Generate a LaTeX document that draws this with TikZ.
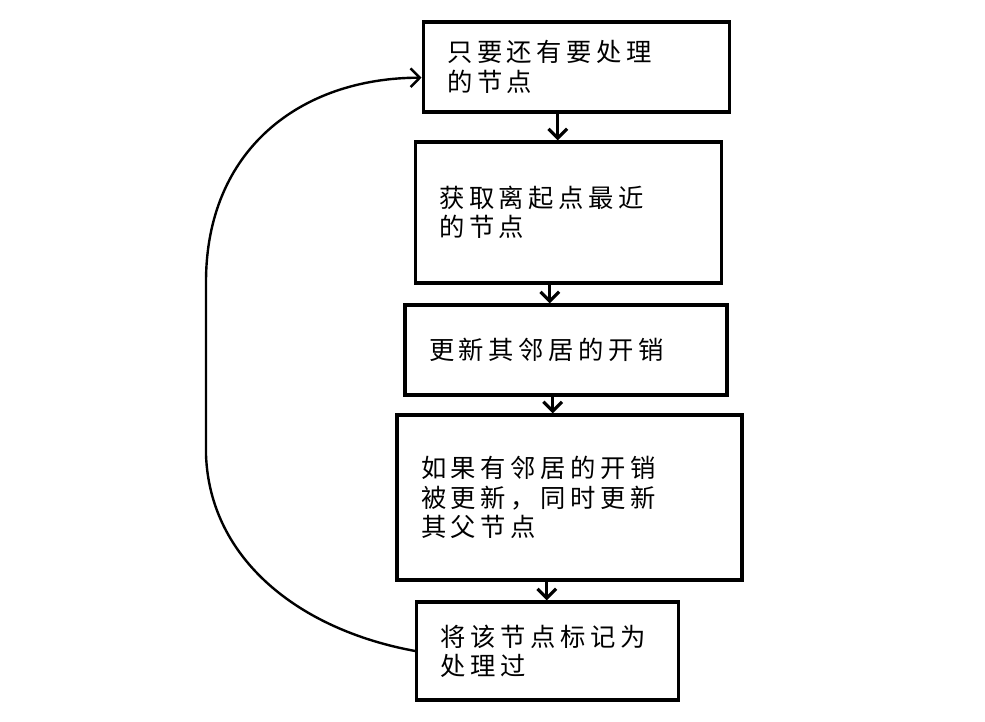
\documentclass[tikz,border=0pt]{standalone}
\usepackage{fontspec}
\newfontfamily\cjk[LetterSpace=18]{Noto Sans CJK SC}
\usetikzlibrary{arrows.meta}
\tikzset{
  stepbox/.style={draw, line width=2.4pt, align=left, inner xsep=18pt,
    font=\cjk\fontsize{19}{22}\selectfont},
  arr/.style={line width=2.4pt, -{Straight Barb[length=7pt,width=14pt]}}
}
\begin{document}
\begin{tikzpicture}[x=0.75pt, y=-0.75pt]
    \useasboundingbox (0,0) rectangle (985,721);
    % Boxes, top to bottom
    \node[stepbox, text width=194pt, minimum height=67.5pt] (B1) at (576.5,67)
      {只要还有要处理\\的节点};
    \node[stepbox, text width=194pt, minimum height=105.75pt] (B2) at (568.5,212.5)
      {获取离起点最近\\的节点};
    \node[stepbox, text width=205.5pt, minimum height=67.5pt] (B3) at (566,350)
      {更新其邻居的开销};
    \node[stepbox, text width=222.75pt, minimum height=123.75pt] (B4) at (569.5,497.5)
      {如果有邻居的开销\\被更新，同时更新\\其父节点};
    \node[stepbox, text width=160pt, minimum height=73.5pt] (B5) at (547.5,651)
      {将该节点标记为\\处理过};
    % Downward arrows
    \draw[arr] ([xshift=-14pt]B1.south) -- ([xshift=-14pt]B1.south |- B2.north);
    \draw[arr] ([xshift=-14pt]B2.south) -- ([xshift=-14pt]B2.south |- B3.north);
    \draw[arr] ([xshift=-10pt]B3.south) -- ([xshift=-10pt]B3.south |- B4.north);
    \draw[arr] ([xshift=-17pt]B4.south) -- ([xshift=-17pt]B4.south |- B5.north);
    % Loop back to the first box
    \draw[arr, line width=1.8pt] (B5.west) .. controls (300,630) and (210,560) .. (206,455)
      -- (206,282) .. controls (206,150) and (300,78) .. ([yshift=-8pt]B1.west);
\end{tikzpicture}
\end{document}
